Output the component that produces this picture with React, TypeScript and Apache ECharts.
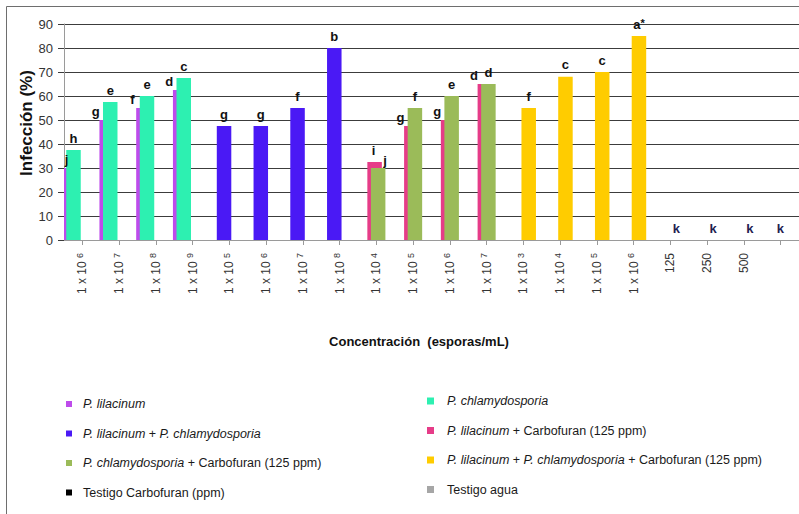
import { useEffect, useRef } from 'react';
import * as echarts from 'echarts';

// ---------- data ----------
const categories = [
  '1 x 10^6', '1 x 10^7', '1 x 10^8', '1 x 10^9',
  '1 x 10^5', '1 x 10^6', '1 x 10^7', '1 x 10^8',
  '1 x 10^4', '1 x 10^5', '1 x 10^6', '1 x 10^7',
  '1 x 10^3', '1 x 10^4', '1 x 10^5', '1 x 10^6',
  '125', '250', '500', '',
];

const lilacinum = [30, 50, 55, 62.5];
const lilacinumLetters = ['j', 'g', 'f', 'd'];
const chlamydosporia = [37.5, 57.5, 60, 67.5];
const chlamydosporiaLetters = ['h', 'e', 'e', 'c'];
const lilChl = [47.5, 47.5, 55, 80];
const lilChlLetters = ['g', 'g', 'f', 'b'];
const lilCarb = [32.5, 47.5, 50, 65];
const lilCarbLetters = ['i', 'g', 'g', 'd'];
const chlCarb = [30, 55, 60, 65];
const chlCarbLetters = ['j', 'f', 'e', 'd'];
const triple = [55, 68, 70, 85];
const tripleLetters = ['f', 'c', 'c', 'a*'];
const testigoCarb = [0, 0, 0];
const testigoCarbLetters = ['k', 'k', 'k'];
const testigoAgua = [0];
const testigoAguaLetters = ['k'];

const yTicks = { min: 0, max: 90, interval: 10 };

const FONT = "'Liberation Sans', Arial, Helvetica, sans-serif";

type Kind = 'back' | 'front' | 'ctrl';
interface SeriesDef {
  name: string;
  color: string;
  start: number;
  values: number[];
  letters: string[];
  kind: Kind;
  labelDx?: number;
  labelColor?: string;
  itemOffsets?: Record<number, [number, number]>;
}

const seriesDefs: SeriesDef[] = [
  { name: 'P. lilacinum', color: '#BE4BEB', start: 0, values: lilacinum, letters: lilacinumLetters, kind: 'back', itemOffsets: { 0: [-4, 3] } },
  { name: 'P. chlamydosporia', color: '#2DF0B1', start: 0, values: chlamydosporia, letters: chlamydosporiaLetters, kind: 'front' },
  { name: 'P. lilacinum + P. chlamydosporia', color: '#4A19F5', start: 4, values: lilChl, letters: lilChlLetters, kind: 'front' },
  { name: 'P. lilacinum + Carbofuran (125 ppm)', color: '#E63C88', start: 8, values: lilCarb, letters: lilCarbLetters, kind: 'back', itemOffsets: { 0: [-1, 0] } },
  { name: 'P. chlamydosporia + Carbofuran (125 ppm)', color: '#9BBB59', start: 8, values: chlCarb, letters: chlCarbLetters, kind: 'front', itemOffsets: { 0: [7, 4] } },
  { name: 'P. lilacinum + P. chlamydosporia + Carbofuran (125 ppm)', color: '#FFCC00', start: 12, values: triple, letters: tripleLetters, kind: 'front' },
  { name: 'Testigo Carbofuran (ppm)', color: '#000000', start: 16, values: testigoCarb, letters: testigoCarbLetters, kind: 'ctrl', labelDx: -3, labelColor: '#1F2050' },
  { name: 'Testigo agua', color: '#A6A6A6', start: 19, values: testigoAgua, letters: testigoAguaLetters, kind: 'ctrl', labelDx: -12, labelColor: '#1F2050' },
];

function legendFormatter(name: string): string {
  // italicise species names, keep the rest upright
  const parts = name.split(/(P\. [a-z]+)/g).filter((s) => s.length > 0);
  return parts
    .map((p) => (/^P\. [a-z]+$/.test(p) ? `{i|${p}}` : `{n|${p}}`))
    .join('');
}

function buildOption(): echarts.EChartsCoreOption {
  const series = seriesDefs.map((def) => {
    const data = categories.map((_, ci) => {
      const k = ci - def.start;
      if (k < 0 || k >= def.values.length) return '-';
      const item: any = { value: def.values[k] };
      if (def.itemOffsets && def.itemOffsets[k]) {
        item.label = { offset: def.itemOffsets[k] };
      }
      return item;
    });
    const baseOffset: [number, number] =
      def.kind === 'back' ? [-11, 3] : def.kind === 'ctrl' ? [def.labelDx || 0, 0] : [0, 0];
    const lc = def.labelColor || '#111111';
    return {
      type: 'bar',
      name: def.name,
      data,
      barWidth: 14.5,
      barGap: '-75.5%',
      itemStyle: { color: def.color },
      emphasis: { disabled: true },
      label: {
        show: true,
        position: 'top',
        distance: 5,
        offset: baseOffset,
        formatter: (p: any) => {
          const t = def.letters[p.dataIndex - def.start] || '';
          if (t.endsWith('*')) return `{b|${t.slice(0, -1)}}{s|*}`;
          return `{b|${t}}`;
        },
        rich: {
          b: { fontSize: 13, fontWeight: 'bold', color: lc, fontFamily: FONT, lineHeight: 14 },
          s: { fontSize: 11, fontWeight: 'bold', color: lc, fontFamily: FONT, lineHeight: 8, verticalAlign: 'top' },
        },
      },
    };
  });

  const legendNames = seriesDefs.map((d) => d.name);
  const legendCommon = {
    orient: 'vertical',
    icon: 'rect',
    selectedMode: false,
    itemGap: 13.5,
    formatter: legendFormatter,
    textStyle: {
      fontSize: 12.5,
      color: '#1a1a1a',
      fontFamily: FONT,
      lineHeight: 16,
      rich: {
        i: { fontStyle: 'italic', fontSize: 12.5, color: '#1a1a1a', fontFamily: FONT, lineHeight: 16 },
        n: { fontStyle: 'normal', fontSize: 12.5, color: '#1a1a1a', fontFamily: FONT, lineHeight: 16 },
      },
    },
  };

  return {
    animation: false,
    backgroundColor: '#ffffff',
    grid: { left: 64, top: 24, width: 737, height: 216, containLabel: false },
    legend: [
      {
        ...legendCommon,
        left: 61,
        top: 391,
        itemWidth: 6,
        itemHeight: 6,
        data: legendNames.filter((_, i) => i % 2 === 0),
        textStyle: { ...legendCommon.textStyle, padding: [0, 0, 0, 6] },
      },
      {
        ...legendCommon,
        left: 422,
        top: 388,
        itemWidth: 7,
        itemHeight: 7,
        data: legendNames.filter((_, i) => i % 2 === 1),
        textStyle: { ...legendCommon.textStyle, padding: [0, 0, 0, 8] },
      },
    ],
    xAxis: {
      type: 'category',
      data: categories,
      boundaryGap: true,
      axisLine: { show: true, lineStyle: { color: '#9a9a9a', width: 1 } },
      axisTick: { show: true, alignWithLabel: true, length: 5, lineStyle: { color: '#9a9a9a' } },
      splitLine: { show: false },
      axisLabel: {
        interval: 0,
        rotate: 90,
        margin: 13,
        formatter: (v: string) => {
          if (v.includes('^')) {
            const [base, exp] = v.split('^');
            return `{m|${base} }{e|${exp}}`;
          }
          return `{m|${v}}`;
        },
        rich: {
          m: { fontSize: 12, color: '#333333', fontFamily: FONT, lineHeight: 14 },
          e: { fontSize: 9, color: '#333333', fontFamily: FONT, lineHeight: 9, verticalAlign: 'top' },
        },
      },
    },
    yAxis: {
      type: 'value',
      min: yTicks.min,
      max: yTicks.max,
      interval: yTicks.interval,
      axisLine: { show: true, lineStyle: { color: '#9a9a9a' } },
      axisTick: { show: true, length: 6, lineStyle: { color: '#3c3c3c' } },
      axisLabel: { margin: 11, fontSize: 13, color: '#333333', fontFamily: FONT },
      splitLine: { show: true, lineStyle: { color: '#3c3c3c', width: 1 } },
    },
    graphic: [
      {
        type: 'rect',
        silent: true,
        z: -10,
        shape: { x: 6.5, y: 6.5, width: 1000, height: 1000 },
        style: { fill: 'none', stroke: '#6e6e6e', lineWidth: 1 },
      },
      {
        type: 'text',
        silent: true,
        x: 26,
        y: 123,
        rotation: Math.PI / 2,
        style: {
          text: 'Infección (%)',
          fontSize: 17,
          fontWeight: 'bold',
          fontFamily: FONT,
          fill: '#111111',
          align: 'center',
          verticalAlign: 'middle',
          textAlign: 'center',
          textVerticalAlign: 'middle',
        },
      },
      {
        type: 'text',
        silent: true,
        x: 419,
        y: 341,
        style: {
          text: 'Concentración  (esporas/mL)',
          fontSize: 13,
          fontWeight: 'bold',
          fontFamily: FONT,
          fill: '#111111',
          align: 'center',
          verticalAlign: 'middle',
          textAlign: 'center',
          textVerticalAlign: 'middle',
        },
      },
    ],
    series,
  };
}

export default function App() {
  const ref = useRef<HTMLDivElement | null>(null);
  useEffect(() => {
    if (!ref.current) return;
    const chart = echarts.init(ref.current, undefined, { renderer: 'svg', width: 799, height: 514 });
    chart.setOption(buildOption());
    return () => {
      chart.dispose();
    };
  }, []);
  return (
    <div
      ref={ref}
      style={{ position: 'absolute', left: 0, top: 0, width: 799, height: 514, background: '#ffffff' }}
    />
  );
}
